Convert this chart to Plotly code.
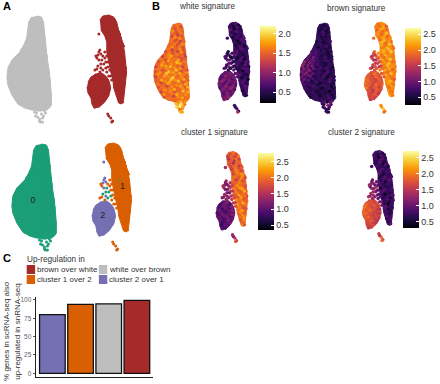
import plotly.graph_objects as go
from plotly.colors import sample_colorscale

W, H = 440, 384
FONT = "Liberation Sans"
INFERNO = "Inferno"

# ---- outlines of the cell clouds (UMAP-like coordinates) ----
GRAY_OUT_X = [37,42,44,45,46,47,48,50,51,52,52,50,46,40,34,32,25,18,12,8,7,8,12,20,24,27,28,29,32]
GRAY_OUT_Y = [16,17,22,32,42,50,60,72,85,95,105,108,110,111,110,110,108,104,95,85,78,68,60,52,45,38,30,22,17]
MAIN_OUT_X = [101,104,110,115,118,120,124,126,127,128,127,126,125,123,120,118,115,114,112,110,108,108,106,102]
MAIN_OUT_Y = [20,16,15,17,22,30,42,52,62,72,82,92,100,104,103,97,88,78,72,62,52,42,36,30]
LOBE_OUT_X = [89,92,97,103,107,110,112,110,105,100,95,93,92,89,88]
LOBE_OUT_Y = [82,77,74,73,76,80,88,96,103,107,108,104,98,93,87]

# ---- individual cells: "gray" cloud ----
GRAY_X = [33,37,41, 31,35,40,43, 30,34,38,42, 28,33,37,41,45, 26,30,35,40,44,
          22,27,32,37,42,46, 18,24,29,34,39,44,47, 13,19,25,30,36,41,46,
          10,16,22,28,33,38,44,48, 9,15,20,26,31,37,42,48, 9,14,20,25,31,36,42,47,50,
          10,16,22,27,33,38,44,49, 13,18,24,30,35,41,46,50, 16,22,28,33,39,44,50,
          20,26,32,38,43,49, 34,41,47, 37,42,46, 38,43, 40,
          # second pass, between the rows above
          34,38,42, 32,37,41, 31,36,40,44, 28,33,38,43, 25,30,35,40,45,
          21,26,31,36,41,46, 16,22,27,33,38,43,47, 11,17,23,29,34,40,45,
          12,18,24,29,35,40,46,49, 12,17,23,29,34,40,45,49, 12,17,23,29,34,40,45,50,
          13,19,25,30,36,41,47, 16,21,27,33,38,44,49, 20,25,31,36,42,47,
          35,38,44,40,36,45,41,43]
GRAY_Y = [20,19,21, 26,27,25,27, 32,33,31,32, 38,37,39,38,38, 44,45,43,44,45,
          50,51,49,50,51,50, 56,57,55,56,57,55,56, 62,63,61,62,63,61,62,
          68,69,67,68,69,67,68,69, 74,75,73,74,75,73,74,75, 80,81,79,80,81,79,80,81,80,
          86,87,85,86,87,85,86,87, 92,93,91,92,93,91,92,93, 98,99,97,98,99,97,98,
          104,105,103,104,105,104, 109,110,109, 113,114,113, 117,118, 121,
          23,23,22, 29,30,28, 35,36,34,35, 41,42,40,41, 47,48,46,47,48,
          53,54,52,53,54,53, 59,60,58,59,60,58,59, 65,66,64,65,66,64,65,
          71,72,70,71,72,70,71,72, 77,78,76,77,78,76,77,78, 83,84,82,83,84,82,83,84,
          89,90,88,89,90,88,89, 95,96,94,95,96,94,95, 101,102,100,101,102,101,
          112,110,116,119,116,111,122,122]
WHITE_ON_GRAY = [1.5,1.6,1.3, 1.7,1.4,1.6,1.5, 1.3,1.7,1.5,1.4, 1.6,1.4,1.7,1.3,1.5, 1.5,1.7,1.3,1.6,1.4,
                 1.4,1.6,1.5,1.3,1.7,1.5, 1.3,1.6,1.8,1.5,1.4,1.6,1.3, 1.4,1.7,1.8,1.6,1.9,1.4,1.6,
                 1.3,1.6,1.8,1.9,1.7,1.5,1.3,1.6, 1.4,1.7,1.5,1.9,1.8,1.6,1.4,1.7, 1.3,1.6,1.8,1.7,2.0,1.5,1.7,1.4,1.6,
                 1.5,1.3,1.7,1.8,1.5,1.9,1.4,1.7, 1.4,1.6,1.3,1.7,1.5,1.8,1.4,1.9, 1.3,1.5,1.7,1.4,1.6,1.9,1.8,
                 1.4,1.6,1.3,1.7,1.8,1.6, 1.5,1.9,1.7, 1.8,2.0,1.6, 1.9,1.7, 1.8,
                 1.4,1.6,1.5, 1.5,1.3,1.6, 1.6,1.4,1.7,1.5, 1.5,1.6,1.4,1.7, 1.6,1.3,1.5,1.7,1.4,
                 1.5,1.7,1.4,1.6,1.5,1.3, 1.6,1.4,1.7,1.6,1.8,1.4,1.5, 1.5,1.8,1.5,1.7,1.6,1.8,1.5,
                 1.6,1.4,1.7,1.6,1.9,1.7,1.5,1.4, 1.7,1.5,1.9,1.6,1.7,1.8,1.6,1.5, 1.5,1.8,1.6,1.9,1.7,1.6,1.8,1.5,
                 1.6,1.5,1.8,1.6,1.7,1.6,1.8, 1.5,1.7,1.6,1.8,1.5,1.7,1.6, 1.7,1.5,1.6,1.8,1.6,1.7,
                 1.9,1.7,1.8,1.6,2.0,1.7,1.9,1.8]
BROWN_ON_GRAY = [0.6,0.5,0.7, 0.5,0.8,0.4,0.6, 0.7,0.5,0.3,0.6, 0.5,0.7,0.4,0.6,0.8, 0.7,0.4,0.6,0.8,0.5,
                 0.8,0.9,0.5,0.7,0.4,0.6, 0.9,1.1,0.7,0.5,0.8,0.4,0.6, 1.2,1.1,0.9,0.7,0.5,0.8,0.6,
                 1.2,1.0,1.1,0.6,0.8,0.5,0.7,0.4, 1.1,1.2,0.9,0.6,0.7,0.4,0.8,0.6, 1.0,0.8,1.0,0.5,0.7,0.9,0.4,0.7,0.5,
                 0.9,0.7,0.5,0.8,0.4,0.6,0.9,0.5, 0.7,0.5,0.8,0.6,0.4,0.7,0.3,0.6, 0.6,0.8,0.4,0.7,0.5,0.3,0.6,
                 0.5,0.7,0.4,0.6,0.8,0.5, 0.7,0.4,0.9, 0.6,1.2,0.7, 0.8,0.5, 0.6,
                 0.5,0.7,0.6, 0.6,0.8,0.5, 0.7,0.5,0.6,0.7, 0.6,0.7,0.5,0.6, 0.8,0.7,0.6,0.5,0.7,
                 0.9,0.8,0.7,0.6,0.5,0.7, 1.0,1.0,0.8,0.6,0.7,0.5,0.6, 1.2,1.1,0.9,0.8,0.6,0.5,0.7,
                 1.1,1.2,1.0,0.7,0.6,0.8,0.5,0.7, 1.1,1.0,0.9,0.7,0.6,0.8,0.5,0.7, 1.0,0.9,0.8,0.6,0.7,0.5,0.8,0.6,
                 0.8,0.7,0.6,0.5,0.7,0.6,0.5, 0.7,0.6,0.7,0.5,0.6,0.7,0.5, 0.6,0.7,0.5,0.6,0.7,0.5,
                 0.7,0.9,0.8,0.6,0.7,1.0,0.8,0.6]

# ---- individual cells: "brown" cloud (52 main, 27 lobe, 18 strays, then 40 main, 22 lobe, 19 strays) ----
BROWN_X = [106,110,114, 104,109,114,117, 105,110,115,120, 108,113,118,122, 110,115,120,124, 110,114,119,124,
           110,115,120,125, 111,116,121,126, 112,117,122,127, 114,119,124,127, 115,120,125, 116,121,126, 118,122,125, 119,123, 121,124,
           94,99,104, 91,96,101,106,110, 90,95,100,105,110, 91,96,101,106,109, 94,99,104,107, 95,100,104, 96,100,
           99,101,102,98,103,106,105,107,102,98,109,113,116,100,110,112,114,113,
           103,108,112,116, 106,111,116, 107,112,117,121, 110,115,120, 112,117,122,125, 112,117,122, 113,118,123,
           114,119,124, 115,120,125, 117,122,126, 118,123, 119,124, 120,124, 121,
           97,102, 93,98,103,108, 93,98,103,108, 92,98,103,108, 94,99,104, 96,101,106, 98,102,
           100,97,104,108,100,107,102,99,104,108,111,110,106,109,113,112,96,101,109]
BROWN_Y = [18,17,19, 24,23,25,24, 30,29,31,32, 36,37,35,38, 42,43,41,44, 48,49,47,50,
           54,55,53,56, 60,61,59,62, 66,67,65,68, 72,73,71,74, 78,79,77, 84,85,83, 90,91,89, 96,97, 101,102,
           78,77,78, 83,84,82,83,85, 88,89,87,88,90, 93,94,92,93,95, 98,99,97,98, 103,104,102, 107,106,
           55,50,54,58,60,58,64,68,68,69,62,49,52,34,116,118,121,122,
           21,20,21,20, 27,26,28, 33,34,32,34, 39,40,38, 45,46,44,46, 51,52,50, 57,58,56,
           63,64,62, 69,70,68, 75,76,74, 81,82, 87,88, 93,94, 99,
           75,76, 80,79,80,81, 85,86,84,85, 90,91,89,90, 95,96,94, 100,101,100, 105,104,
           52,56,56,56,60,62,64,66,70,72,70,76,52,67,80,76,70,72,114]
WHITE_ON_BROWN = [0.5,0.7,0.4, 0.8,0.3,0.6,0.5, 0.7,0.4,0.6,0.8, 0.5,0.3,0.7,0.6, 0.4,0.7,0.5,0.8, 0.6,0.3,0.7,0.5,
                  0.8,0.5,0.4,0.7, 0.5,0.7,0.3,0.6, 0.7,0.5,0.8,0.4, 0.5,0.3,0.7,0.6, 0.8,0.5,0.4, 0.6,0.7,0.3, 0.5,0.8,0.6, 0.4,0.7, 0.6,0.5,
                  0.8,0.7,0.9, 0.7,1.0,0.8,0.6,0.9, 0.9,0.7,1.0,0.8,0.6, 0.7,0.9,0.8,1.0,0.7, 0.8,1.0,0.7,0.9, 0.8,0.9,0.7, 0.9,0.8,
                  0.6,0.4,0.7,0.5,0.8,0.4,0.6,0.7,0.9,0.5,0.6,0.7,0.5,0.6,0.4,0.7,0.5,1.1,
                  0.6,0.4,0.7,0.5, 0.5,0.7,0.6, 0.4,0.6,0.5,0.7, 0.6,0.4,0.7, 0.5,0.7,0.4,0.6, 0.7,0.5,0.6, 0.4,0.7,0.5,
                  0.6,0.4,0.7, 0.5,0.7,0.6, 0.6,0.5,0.7, 0.4,0.6, 0.7,0.5, 0.6,0.7, 0.5,
                  0.8,0.9, 0.7,1.0,0.8,0.9, 1.0,0.7,0.9,0.8, 0.8,1.0,0.7,0.9, 0.9,0.8,1.0, 0.7,0.9,0.8, 0.9,1.0,
                  0.5,0.7,0.4,0.6,0.8,0.5,0.7,0.6,0.4,0.8,0.5,0.7,0.6,0.5,0.6,0.8,0.7,0.5,0.6]
BROWN_ON_BROWN = [1.9,2.1,2.0, 1.8,2.2,2.0,1.9, 2.1,1.8,2.2,2.0, 1.9,2.3,2.0,1.8, 2.2,2.0,2.4,1.9, 2.1,1.8,2.3,2.0,
                  1.9,2.3,2.1,2.0, 2.2,1.9,2.4,2.0, 2.0,2.3,2.1,1.9, 2.2,2.0,1.8,2.1, 2.3,1.9,2.0, 2.1,2.3,1.8, 2.0,2.2,1.9, 2.1,1.9, 2.2,2.0,
                  1.8,2.0,1.7, 1.9,1.7,1.6,1.9,1.7, 2.0,1.8,1.5,1.7,1.9, 2.0,1.6,1.8,1.5,1.7, 1.7,1.5,1.8,1.6, 1.6,1.5,1.7, 1.5,1.6,
                  1.6,1.9,1.5,1.7,1.4,1.8,1.6,1.5,1.7,1.3,1.9,2.3,2.2,1.9,2.1,2.4,2.0,1.9,
                  2.0,1.9,2.2,1.8, 2.1,1.9,2.3, 2.0,2.2,1.9,2.1, 2.3,1.9,2.1, 2.0,2.3,2.1,1.9, 2.2,2.0,2.4, 1.9,2.2,2.0,
                  2.1,2.3,1.9, 2.0,2.2,2.1, 1.9,2.3,2.0, 2.1,1.9, 2.2,2.0, 1.9,2.1, 2.0,
                  1.7,1.9, 1.8,1.6,1.9,1.7, 1.9,1.7,1.6,1.8, 1.8,1.6,1.9,1.7, 1.7,1.5,1.8, 1.6,1.8,1.5, 1.7,1.6,
                  1.7,1.5,1.8,2.0,1.4,1.7,1.5,1.6,1.8,2.0,1.9,1.7,2.1,1.6,1.8,1.9,1.6,1.7,2.1]
CL1_ON_BROWN = [1.7,2.0,1.6, 1.5,1.9,2.1,1.7, 1.8,1.5,2.0,1.7, 1.6,2.1,1.8,1.9, 1.7,2.0,2.2,1.8, 2.0,1.7,2.2,1.9,
                1.8,2.2,2.0,1.7, 2.1,1.8,2.3,1.9, 1.9,2.3,2.0,1.7, 2.2,2.0,1.8,2.1, 2.3,1.9,2.1, 2.0,2.3,1.8, 1.9,2.2,2.0, 1.8,2.1, 2.2,1.8,
                0.9,1.1,0.8, 1.0,0.8,1.1,0.9,1.2, 0.9,1.1,0.8,1.0,1.2, 1.0,0.8,1.1,0.9,1.1, 1.0,0.9,1.2,1.0, 0.8,1.1,0.9, 1.0,0.8,
                1.3,1.4,1.1,1.5,1.2,1.6,1.0,1.4,1.2,1.3,1.5,1.6,1.7,1.4,1.1,1.5,1.6,1.8,
                1.6,1.9,1.7,2.0, 1.8,1.5,1.9, 1.7,2.0,1.6,1.9, 1.8,2.1,1.7, 2.0,1.8,2.2,1.7, 1.9,2.1,1.8, 2.0,2.2,1.9,
                2.1,1.9,2.3, 1.8,2.2,2.0, 2.0,2.3,1.9, 2.1,1.8, 2.2,1.9, 2.0,2.2, 1.9,
                1.0,1.2, 0.9,1.1,1.0,1.2, 1.1,0.9,1.0,1.2, 0.9,1.1,1.0,1.2, 1.0,0.9,1.1, 0.8,1.0,1.1, 0.9,1.0,
                1.2,1.4,1.3,1.6,1.1,1.5,1.2,1.4,1.3,1.6,1.7,1.5,1.5,1.7,1.8,1.6,1.2,1.3,1.4]
CL2_ON_BROWN = [0.7,0.9,0.5, 0.8,0.4,0.9,0.7, 0.6,0.9,0.4,0.8, 0.7,0.9,0.6,0.8, 0.9,0.5,0.8,0.7, 0.6,0.9,0.7,0.8,
                0.9,0.6,0.8,0.7, 0.4,0.9,0.7,0.8, 0.8,0.4,0.6,0.9, 0.7,0.9,0.5,0.8, 0.6,0.4,0.8, 0.9,0.5,0.7, 0.8,0.6,0.9, 0.7,0.9, 0.8,0.9,
                1.8,1.9,1.6, 2.0,1.8,1.6,1.7,1.4, 1.9,1.8,1.7,1.6,1.5, 1.8,1.9,1.6,1.7,1.5, 1.7,1.9,1.6,1.5, 1.6,1.8,1.5, 1.5,1.7,
                1.2,1.0,1.3,0.9,1.2,1.4,1.1,1.0,1.3,1.1,0.9,0.8,1.0,0.8,1.4,1.8,1.5,1.9,
                0.8,0.6,0.9,0.7, 0.7,0.9,0.6, 0.8,0.7,0.9,0.6, 0.9,0.7,0.8, 0.6,0.9,0.7,0.8, 0.7,0.5,0.9, 0.8,0.6,0.7,
                0.9,0.7,0.8, 0.6,0.8,0.9, 0.7,0.5,0.8, 0.9,0.7, 0.8,0.6, 0.9,0.8, 0.7,
                1.7,1.6, 1.9,1.7,1.8,1.6, 1.8,1.9,1.7,1.5, 1.9,1.7,1.6,1.5, 1.8,1.7,1.6, 1.7,1.6,1.5, 1.6,1.7,
                1.1,1.3,1.0,0.9,1.2,1.0,1.3,1.4,1.2,1.0,0.9,1.1,1.0,0.9,1.0,1.1,1.4,1.3,1.6]
# cluster assignment of the same cells
C1, C2, C0 = "#d95f02", "#7570b3", "#1b9e77"
CLUSTER_ON_BROWN = ([C1]*52 + [C2]*27 + [C2,C2,C2,C1,C0,C1,C0,C0,C2,C1,C1,C1,C0,C2,C1,C1,C1,C1]
                    + [C1]*40 + [C2]*22 + [C2,C1,C1,C1,C2,C1,C0,C0,C0,C1,C1,C1,C1,C1,C1,C1,C1,C1,C1])

# ---- bars ----
BAR_CATS = ["cluster 2 over 1", "cluster 1 over 2", "white over brown", "brown over white"]
BAR_VALS = [80, 94, 94.5, 99.5]
BAR_COLS = ["#7570b3", "#d95f02", "#bebebe", "#a52a2a"]
LEGEND_ROWS = [("brown over white", "#a52a2a", 27, 269.5), ("white over brown", "#bebebe", 100, 269.5),
               ("cluster 1 over 2", "#d95f02", 27, 279.5), ("cluster 2 over 1", "#7570b3", 100, 279.5)]
CLUSTER_LABELS = [("0", 28.5, 73), ("1", 119, 59), ("2", 99, 88)]

fig = go.Figure()
layout = {}
N = [0]

def add_axes(ax, bx, ay, by, urange=(0, 135), vrange=(0, 125)):
    N[0] += 1
    k = N[0]
    sx = "" if k == 1 else str(k)
    x0, x1 = ax*urange[0]+bx, ax*urange[1]+bx
    y0, y1 = ay*vrange[0]+by, ay*vrange[1]+by
    layout["xaxis"+sx] = dict(domain=[x0/W, x1/W], range=list(urange), visible=False, anchor="y"+sx, fixedrange=True)
    layout["yaxis"+sx] = dict(domain=[1-y1/H, 1-y0/H], range=[vrange[1], vrange[0]], visible=False, anchor="x"+sx, fixedrange=True)
    return "x"+sx, "y"+sx

def poly(xa, ya, X, Y, color):
    fig.add_trace(go.Scatter(x=X, y=Y, xaxis=xa, yaxis=ya, mode="lines", fill="toself", fillcolor=color,
                             line=dict(color=color, width=1), showlegend=False, hoverinfo="skip"))

def dots(xa, ya, X, Y, color, size=3):
    fig.add_trace(go.Scatter(x=X, y=Y, xaxis=xa, yaxis=ya, mode="markers",
                             marker=dict(color=color, size=size, line=dict(width=0)), showlegend=False, hoverinfo="skip"))

def base(v, lo, hi):
    return sample_colorscale(INFERNO, [(v-lo)/(hi-lo)])[0]

def vdots(xa, ya, X, Y, V, lo, hi, cb=None):
    m = dict(color=V, cmin=lo, cmax=hi, colorscale=INFERNO, size=3.4, line=dict(width=0), showscale=cb is not None)
    if cb:
        m["colorbar"] = dict(x=cb[0]/W, xanchor="left", xpad=0, y=1-cb[1]/H, yanchor="middle", ypad=0,
                             len=77, lenmode="pixels", thickness=16, thicknessmode="pixels", outlinewidth=0,
                             tickvals=[0.5, 1.0, 1.5, 2.0, 2.5], ticktext=["0.5", "1.0", "1.5", "2.0", "2.5"],
                             ticks="inside", ticklen=3, tickcolor="white", tickwidth=0.5,
                             tickfont=dict(family=FONT, size=9, color="#333333"))
    fig.add_trace(go.Scatter(x=X, y=Y, xaxis=xa, yaxis=ya, mode="markers", marker=m, showlegend=False, hoverinfo="skip"))

# Panel A, top
xa, ya = add_axes(1, 0, 1, 0)
poly(xa, ya, GRAY_OUT_X, GRAY_OUT_Y, "#bebebe")
dots(xa, ya, GRAY_X, GRAY_Y, "#bebebe")
poly(xa, ya, MAIN_OUT_X, MAIN_OUT_Y, "#a52a2a")
poly(xa, ya, LOBE_OUT_X, LOBE_OUT_Y, "#a52a2a")
dots(xa, ya, BROWN_X, BROWN_Y, "#a52a2a")

# Panel A, bottom
xa, ya = add_axes(1, 5, 1, 128)
poly(xa, ya, GRAY_OUT_X, GRAY_OUT_Y, C0)
dots(xa, ya, GRAY_X, GRAY_Y, C0)
poly(xa, ya, MAIN_OUT_X, MAIN_OUT_Y, C1)
poly(xa, ya, LOBE_OUT_X, LOBE_OUT_Y, C2)
dots(xa, ya, BROWN_X, BROWN_Y, CLUSTER_ON_BROWN)
fig.add_trace(go.Scatter(x=[c[1] for c in CLUSTER_LABELS], y=[c[2] for c in CLUSTER_LABELS], xaxis=xa, yaxis=ya,
                         mode="text", text=[c[0] for c in CLUSTER_LABELS],
                         textfont=dict(family=FONT, size=9, color="#222222"), showlegend=False, hoverinfo="skip"))

# Panel B
xa, ya = add_axes(.8, 150, .84, 9.6)
poly(xa, ya, GRAY_OUT_X, GRAY_OUT_Y, base(1.55, .22, 2.2))
vdots(xa, ya, GRAY_X, GRAY_Y, WHITE_ON_GRAY, .22, 2.2)
poly(xa, ya, MAIN_OUT_X, MAIN_OUT_Y, base(.6, .22, 2.2))
poly(xa, ya, LOBE_OUT_X, LOBE_OUT_Y, base(.8, .22, 2.2))
vdots(xa, ya, BROWN_X, BROWN_Y, WHITE_ON_BROWN, .22, 2.2, cb=(263, 64.5))

xa, ya = add_axes(.8, 298, .84, 9.6)
poly(xa, ya, GRAY_OUT_X, GRAY_OUT_Y, base(.65, .25, 2.7))
vdots(xa, ya, GRAY_X, GRAY_Y, BROWN_ON_GRAY, .25, 2.7)
poly(xa, ya, MAIN_OUT_X, MAIN_OUT_Y, base(2.05, .25, 2.7))
poly(xa, ya, LOBE_OUT_X, LOBE_OUT_Y, base(1.75, .25, 2.7))
vdots(xa, ya, BROWN_X, BROWN_Y, BROWN_ON_BROWN, .25, 2.7, cb=(410, 66.5))

xa, ya = add_axes(.8, 148, .84, 139)
poly(xa, ya, MAIN_OUT_X, MAIN_OUT_Y, base(1.95, .35, 2.77))
poly(xa, ya, LOBE_OUT_X, LOBE_OUT_Y, base(1.0, .35, 2.77))
vdots(xa, ya, BROWN_X, BROWN_Y, CL1_ON_BROWN, .35, 2.77, cb=(261, 191.5))

xa, ya = add_axes(.8, 296, .84, 138)
poly(xa, ya, MAIN_OUT_X, MAIN_OUT_Y, base(.75, .3, 2.7))
poly(xa, ya, LOBE_OUT_X, LOBE_OUT_Y, base(1.75, .3, 2.7))
vdots(xa, ya, BROWN_X, BROWN_Y, CL2_ON_BROWN, .3, 2.7, cb=(408, 189.5))

# Panel C
N[0] += 1
sx = str(N[0])
fig.add_trace(go.Bar(x=BAR_CATS, y=BAR_VALS, xaxis="x"+sx, yaxis="y"+sx, width=0.91,
                     marker=dict(color=BAR_COLS, line=dict(color="#111111", width=1.3)), showlegend=False))
layout["xaxis"+sx] = dict(domain=[36/W, 155/W], anchor="y"+sx, showticklabels=False, ticks="", showgrid=False,
                          showline=True, linecolor="#222222", linewidth=1, range=[-0.596, 3.58], fixedrange=True)
layout["yaxis"+sx] = dict(domain=[1-377/H, 1-297/H], anchor="x"+sx, range=[-5, 104], tickvals=[0, 25, 50, 75, 100],
                          ticks="outside", ticklen=2, tickcolor="#555555", showgrid=False, zeroline=False,
                          showline=True, linecolor="#222222", linewidth=1, fixedrange=True,
                          tickfont=dict(family=FONT, size=6.5, color="#666666"))

ann = []
def text(x, y, s, size=9, color="#333333", anchor="left", bold=False, angle=0):
    ann.append(dict(x=x/W, y=1-y/H, xref="paper", yref="paper", text=f"<b>{s}</b>" if bold else s, showarrow=False,
                    xanchor=anchor, yanchor="middle", textangle=angle, font=dict(family=FONT, size=size, color=color)))

text(1, 6, "A", 11, "#000000", bold=True)
text(152, 6, "B", 11, "#000000", bold=True)
text(1, 258, "C", 11, "#000000", bold=True)
text(210, 6.5, "white signature", 8.2, anchor="center")
text(361, 8.5, "brown signature", 8.2, anchor="center")
text(217, 132.5, "cluster 1 signature", 8.2, anchor="center")
text(366, 132.5, "cluster 2 signature", 8.2, anchor="center")
text(25.5, 259, "Up-regulation in", 8.2)
text(6, 331, "% genes in scRNA-seq also", 8, angle=-90, anchor="center")
text(17, 331, "up-regulated in snRNA-seq", 8, angle=-90, anchor="center")

shapes = []
for name, col, x, y in LEGEND_ROWS:
    shapes.append(dict(type="rect", xref="paper", yref="paper", x0=x/W, x1=(x+8.5)/W, y0=1-(y+4.5)/H, y1=1-(y-4.5)/H,
                       fillcolor=col, line=dict(width=0)))
    text(x+8, y, name, 8)

fig.update_layout(width=W, height=H, margin=dict(l=0, r=0, t=0, b=0), plot_bgcolor="white", paper_bgcolor="white",
                  annotations=ann, shapes=shapes, bargap=0.08, **layout)
fig.write_html("out.html", config={"displayModeBar": False},
               post_script="document.body.style.margin='0';document.documentElement.style.overflow='hidden';window.dispatchEvent(new Event('resize'));")
